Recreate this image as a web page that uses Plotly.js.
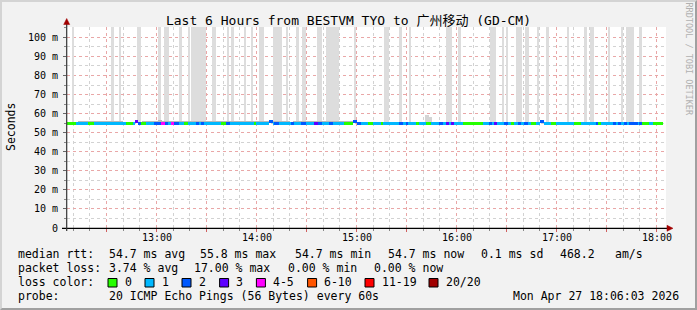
<!DOCTYPE html>
<html><head><meta charset="utf-8">
<script src="https://cdn.plot.ly/plotly-3.0.1.min.js"></script>
<style>
body{margin:0;background:#f2f2f2}
#wrap{position:relative;width:697px;height:310px}
#chart{width:697px;height:310px}
#frame{position:absolute;left:0;top:0;width:697px;height:310px;box-sizing:border-box;border-top:2px solid #d4d4d4;border-left:2px solid #d4d4d4;border-right:2px solid #a0a0a0;border-bottom:2px solid #a0a0a0;pointer-events:none}
</style>
</head><body><div id="wrap"><div id="chart"></div><div id="frame"></div></div>
<script>
// ---- data (time in minutes since midnight) ----
const titleText = 'Last 6 Hours from BESTVM TYO to 广州移动 (GD-CM)';
const yTickVals = [0,10,20,30,40,50,60,70,80,90,100];
const yTickText = ['0','10 m','20 m','30 m','40 m','50 m','60 m','70 m','80 m','90 m','100 m'];
const xGridVals = [750,780,810,840,870,900,930,960,990,1020,1050,1080];
const xLabelVals = [780,840,900,960,1020,1080];
const xLabelText = ['13:00','14:00','15:00','16:00','17:00','18:00'];

// full-height grey smoke bars (some ping far above range)
const spikeStart = [729.0,752.4,757.4,768.2,781.1,784.4,793.2,798.8,800.6,813.2,822.2,824.6,832.4,836.6,841.4,850.1,857.6,863.6,867.2,876.2,881.6,898.2,916.2,925.4,931.2,953.6,961.1,980.3,987.2,989.9,995.4,1001.0,1008.2,1013.6,1026.2,1036.4,1040.0,1051.1,1058.8,1061.6,1069.2];
const spikeEnd   = [730.2,754.4,758.6,770.6,782.6,787.4,795.2,799.8,809.6,815.6,823.4,826.4,833.9,837.8,844.4,855.0,859.1,865.4,869.6,879.0,889.2,899.6,919.2,927.0,932.6,957.0,962.6,983.6,988.4,991.0,999.2,1003.4,1009.4,1015.4,1027.4,1038.4,1042.4,1052.3,1059.6,1066.4,1071.0];

// small smoke just above the median
const smokeStart = [733,771,781,800,862,905,941.0,943.6,945,1005,1044];
const smokeEnd   = [760,800,783,860,900,935,943.6,945.0,1000,1040,1080];
const smokeTop   = [55.9,56.0,56.9,55.9,55.9,55.8,59.2,58.0,55.8,55.8,55.8];

// median rtt runs coloured by loss level
const lossStart = [726.3,731.6,738.8,742.4,761.6,765.8,767.0,768.8,770.6,773.6,778.4,782.6,785.0,786.8,788.6,790.4,793.4,796.4,798.8,803.6,805.4,806.6,808.4,818.6,821.6,824.0,838.4,839.6,847.4,849.8,850.4,853.4,860.6,862.4,866.6,869.6,874.4,876.8,879.2,883.4,885.8,892.4,897.8,900.2,902.6,906.8,909.8,914.6,915.8,925.4,927.8,929.6,930.8,935.6,937.4,941.6,944.6,949.4,951.8,953.6,955.4,956.6,958.4,963.8,975.8,979.4,981.2,982.4,984.2,988.4,990.8,992.6,994.4,996.8,998.6,1000.4,1002.8,1004.6,1007.6,1010.0,1012.4,1016.6,1019.6,1030.4,1034.6,1043.6,1044.8,1046.6,1053.8,1055.6,1056.8,1058.6,1060.4,1062.2,1063.4,1068.8,1069.4,1071.2,1075.4,1077.8];
const lossLevel = [0,1,0,1,0,1,3,2,0,1,2,4,2,1,4,2,1,0,1,2,1,2,1,0,2,1,0,1,2,1,2,1,2,1,2,1,3,2,1,2,1,0,2,2,1,0,1,0,1,2,1,2,1,0,1,0,1,2,1,3,1,3,1,0,1,2,1,3,1,2,1,0,1,2,1,2,1,0,1,2,1,0,1,0,1,2,0,1,2,1,2,1,2,1,2,1,2,0,1,0];
const lossEndLast = 1083.8;
const elevatedRuns = [767.0,847.4,897.8,1010.0];
const medianNormal = 54.7, medianHigh = 55.8;

const lossLabels = ['0','1','2','3','4-5','6-10','11-19','20/20'];
const lossColors = ['#26ff00','#00b8ff','#0059ff','#5e00ff','#ff00ff','#ff5500','#ff0000','#a10000'];

const rttValues = ['54.7','55.8','54.7','54.7','0.1'];
const rttNames = ['ms avg','ms max','ms min','ms now','ms sd'];
const rttRate = '468.2', rttRateUnit = 'am/s';
const lossValues = ['3.74','17.00','0.00','0.00'];
const lossNames = ['% avg','% max','% min','% now'];
const probeText = '20 ICMP Echo Pings (56 Bytes) every 60s';
const dateText = 'Mon Apr 27 18:06:03 2026';

// ---- layout geometry ----
const W=697,H=310,ML=67,MR=31,MT=27,MB=82;
const PW=W-ML-MR, PH=H-MT-MB;
const px = p => (p-ML)/PW;
const py = p => (H-MB-p)/PH;
const MONO = 'DejaVu Sans Mono, Noto Sans CJK SC, monospace';

// ---- traces ----
const mid = (a,b)=>a.map((s,i)=>(s+b[i])/2);
const wid = (a,b)=>a.map((s,i)=>b[i]-s);

const spikeTrace = {type:'bar', x:mid(spikeStart,spikeEnd), width:wid(spikeStart,spikeEnd),
  base:spikeStart.map(()=>55.4), y:spikeStart.map(()=>60),
  marker:{color:'#dddddd', line:{width:0}}, hoverinfo:'skip'};
const smokeTrace = {type:'bar', x:mid(smokeStart,smokeEnd), width:wid(smokeStart,smokeEnd),
  base:smokeStart.map(()=>55.0), y:smokeTop.map(t=>t-55.0),
  marker:{color:smokeTop.map(t=>t>57.5?'#d4d4d4':'#b9b9b9'), line:{width:0}}, hoverinfo:'skip'};
const lossEnd = lossStart.slice(1).concat([lossEndLast]);
const medVals = lossStart.map(s=>elevatedRuns.includes(s)?medianHigh:medianNormal);
const medTrace = {type:'bar', x:mid(lossStart,lossEnd), width:wid(lossStart,lossEnd),
  base:medVals.map(v=>v-0.72), y:medVals.map(()=>1.44),
  marker:{color:lossLevel.map(l=>lossColors[l]), line:{width:0}}, hoverinfo:'skip'};

// ---- annotations ----
const ann = [];
const txt = (x,y,t,opt={}) => ann.push(Object.assign({xref:'paper',yref:'paper',x:px(x),y:py(y),text:t,showarrow:false,
  xanchor:'left',yanchor:'middle',font:{family:MONO,size:11.5,color:'#000'}},opt));
// x tick labels
xLabelVals.forEach((v,i)=>ann.push({xref:'x',yref:'paper',x:v,y:py(237.7),text:xLabelText[i],showarrow:false,
  xanchor:'center',yanchor:'middle',font:{family:MONO,size:10,color:'#000'}}));
// row 1
txt(16,254,'median rtt:');
const r1x=[106.7,197.8,293,386,479];
rttValues.forEach((v,i)=>txt(r1x[i],254,v+' '+rttNames[i]));
txt(558,254,rttRate); txt(613,254,rttRateUnit);
// row 2
txt(16,268,'packet loss:');
const r2x=[106.7,192,285.8,372];
lossValues.forEach((v,i)=>txt(r2x[i],268,v+' '+lossNames[i]));
// row 3
txt(16,282,'loss color:');
const swX=[108,145,182,219.6,256.4,307.6,365,429];
const shapes=[];
lossLabels.forEach((l,i)=>{
  shapes.push({type:'rect',xref:'paper',yref:'paper',x0:px(swX[i]),x1:px(swX[i]+9),y0:py(287),y1:py(278.5),
    fillcolor:lossColors[i],line:{color:'#000',width:1},layer:'above'});
  txt(swX[i]+14.5,282,l);
});
// row 4
txt(16,296,'probe:');
txt(106.7,296,probeText);
txt(681,296,dateText,{xanchor:'right'});
// y title
txt(10.5,127.5,'Seconds',{xanchor:'center',textangle:-90});
// watermark
txt(688.5,59,'RRDTOOL / TOBI OETIKER',{xanchor:'center',textangle:90,font:{family:MONO,size:8.5,color:'#b0b0b0'}});

// axis lines with arrows
shapes.push({type:'line',xref:'paper',yref:'paper',x0:px(62),x1:px(668),y0:py(228.3),y1:py(228.3),line:{color:'#000',width:1.2},layer:'above'});
shapes.push({type:'line',xref:'paper',yref:'paper',x0:px(66.7),x1:px(66.7),y0:py(231),y1:py(23),line:{color:'#333',width:1.2},layer:'above'});
shapes.push({type:'path',xref:'paper',yref:'paper',
  path:`M ${px(667)} ${py(225.3)} L ${px(673)} ${py(228.3)} L ${px(667)} ${py(231.3)} Z`,fillcolor:'#a10000',line:{color:'#a10000',width:0.5},layer:'above'});
shapes.push({type:'path',xref:'paper',yref:'paper',
  path:`M ${px(63.7)} ${py(24.5)} L ${px(66.7)} ${py(18.5)} L ${px(69.7)} ${py(24.5)} Z`,fillcolor:'#a10000',line:{color:'#a10000',width:0.5},layer:'above'});

const layout = {
  width:W,height:H,margin:{l:ML,r:MR,t:MT,b:MB,pad:0},
  paper_bgcolor:'#f2f2f2',plot_bgcolor:'#ffffff',
  showlegend:false,barmode:'overlay',bargap:0,
  title:{text:titleText,xref:'container',x:0.5,xanchor:'center',yref:'container',y:1-20/H,yanchor:'middle',
    font:{family:MONO,size:13,color:'#000'}},
  xaxis:{type:'linear',range:[726.3,1085.7],tickmode:'array',tickvals:xGridVals,showticklabels:false,
    showgrid:true,gridcolor:'#e9a7a7',griddash:'dot',gridwidth:1,zeroline:false,showline:false,
    ticks:'outside',ticklen:3,tickcolor:'#d06060',
    minor:{tickmode:'linear',tick0:0,dtick:10,showgrid:true,gridcolor:'#d2d2d2',griddash:'dot',gridwidth:1,ticks:'outside',ticklen:2,tickcolor:'#888'},
    fixedrange:true},
  yaxis:{range:[0,201/1.906],tickmode:'array',tickvals:yTickVals,ticktext:yTickText,
    showgrid:true,gridcolor:'#e9a7a7',griddash:'dot',gridwidth:1,zeroline:false,showline:false,
    ticks:'outside',ticklen:3,tickcolor:'#666',tickfont:{family:MONO,size:10,color:'#000'},ticklabelstandoff:3,
    minor:{tickmode:'linear',tick0:0,dtick:5,showgrid:true,gridcolor:'#d2d2d2',griddash:'dot',gridwidth:1,ticks:'outside',ticklen:2,tickcolor:'#888'},
    fixedrange:true},
  annotations:ann,shapes:shapes
};
Plotly.newPlot('chart',[spikeTrace,smokeTrace,medTrace],layout,{displayModeBar:false,staticPlot:true});
</script>
</body></html>
